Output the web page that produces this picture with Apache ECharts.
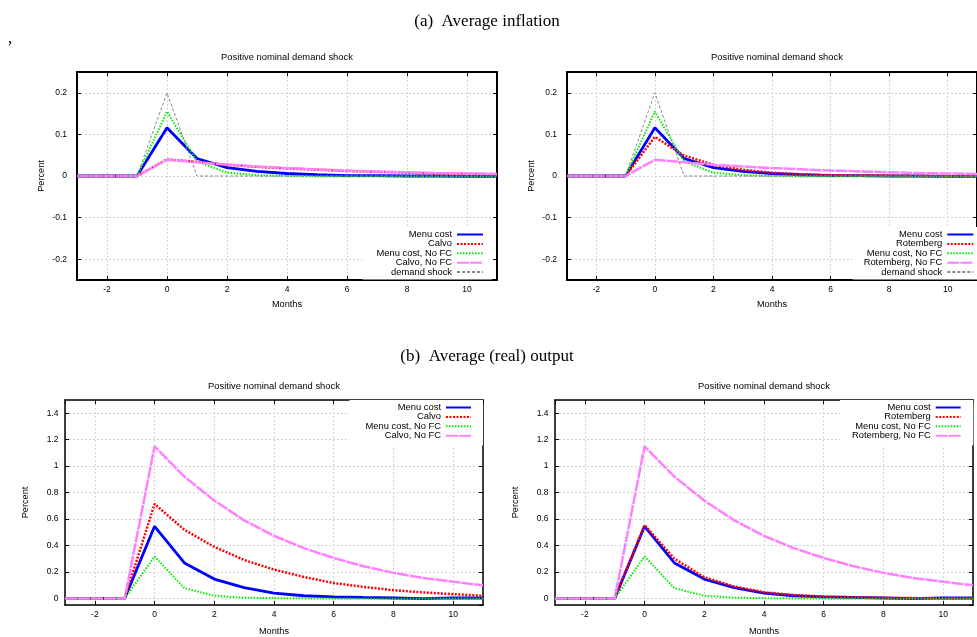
<!DOCTYPE html>
<html>
<head>
<meta charset="utf-8">
<script src="https://cdn.jsdelivr.net/npm/echarts@6.0.0/dist/echarts.min.js"></script>
<style>
  html, body { margin: 0; padding: 0; background: #fff; overflow: hidden; }
  #chart { width: 977px; height: 637px; }
</style>
</head>
<body>
<div id="chart"></div>
<script>
// months after the shock, one point per month
const months = [-3, -2, -1, 0, 1, 2, 3, 4, 5, 6, 7, 8, 9, 10, 11];

// (a) average inflation, percent
const inflMenu        = [0, 0, 0, 0.116, 0.042, 0.020, 0.011, 0.006, 0.003, 0.001, 0.001, 0.000, 0.000, -0.001, -0.001];
const inflCalvo       = [0, 0, 0, 0.040, 0.034, 0.027, 0.022, 0.018, 0.015, 0.012, 0.010, 0.008, 0.006, 0.005, 0.004];
const inflMenuNoFC    = [0, 0, 0, 0.155, 0.035, 0.008, 0.002, 0.000, -0.001, -0.001, -0.001, -0.001, -0.001, -0.001, -0.001];
const inflCalvoNoFC   = [0, 0, 0, 0.039, 0.033, 0.027, 0.023, 0.019, 0.016, 0.013, 0.011, 0.009, 0.007, 0.006, 0.005];
const inflRotemberg   = [0, 0, 0, 0.094, 0.049, 0.027, 0.015, 0.008, 0.004, 0.002, 0.001, 0.001, 0.000, 0.000, 0.000];
const inflRotembergNoFC = [0, 0, 0, 0.039, 0.033, 0.027, 0.023, 0.019, 0.016, 0.013, 0.011, 0.009, 0.007, 0.006, 0.005];
const demandShock     = [0, 0, 0, 0.200, 0, 0, 0, 0, 0, 0, 0, 0, 0, 0, 0];

// (b) average (real) output, percent
const outMenu         = [0, 0, 0, 0.545, 0.268, 0.146, 0.082, 0.040, 0.020, 0.012, 0.007, 0.003, -0.002, 0.004, 0.003];
const outCalvo        = [0, 0, 0, 0.714, 0.518, 0.390, 0.290, 0.218, 0.162, 0.116, 0.087, 0.062, 0.045, 0.032, 0.020];
const outMenuNoFC     = [0, 0, 0, 0.317, 0.077, 0.020, 0.005, 0.002, 0.000, -0.002, -0.002, -0.003, -0.002, 0.000, 0.000];
const outCalvoNoFC    = [0, 0, 0, 1.150, 0.920, 0.740, 0.590, 0.473, 0.380, 0.305, 0.243, 0.193, 0.154, 0.126, 0.099];
const outRotemberg    = [0, 0, 0, 0.555, 0.300, 0.160, 0.090, 0.047, 0.025, 0.014, 0.008, 0.004, 0.002, 0.001, 0.000];
const outRotembergNoFC = [0, 0, 0, 1.150, 0.920, 0.740, 0.590, 0.473, 0.380, 0.305, 0.243, 0.193, 0.154, 0.126, 0.099];

const FONT = 'Liberation Sans';
const SERIF = 'Liberation Serif';

// gnuplot-like line styles
const styles = {
  menu:   { color: '#0000ff', width: 2.8, type: 'solid' },
  calvo:  { color: '#ff0000', width: 2.5, type: [2, 1.5] },
  noFC:   { color: '#00ee00', width: 2,   type: [1.5, 1.5] },
  calvoNoFC: { color: '#ff80ff', width: 2.5, type: [12, 1] },
  shock:  { color: '#888888', width: 1,   type: [3, 2] }
};

function pairs(vals) {
  return months.map((m, i) => [m, vals[i]]);
}

function line(gi, name, vals, st) {
  return {
    type: 'line', name: name, xAxisIndex: 2 * gi, yAxisIndex: 2 * gi,
    data: pairs(vals), symbol: 'none', showSymbol: false, silent: true,
    color: st.color,
    itemStyle: { color: st.color },
    lineStyle: { color: st.color, width: st.width, type: st.type }
  };
}

// each panel gets a bottom/top x axis and a left/right y axis (mirrored ticks)
let xAxes = [];
let yAxes = [];
function panelAxes(gi, yMin, yMax, ySplit, lw, yMargin, yNameGap, xNameGap) {
  const axisLine = { show: true, onZero: false, lineStyle: { color: '#000', width: lw } };
  const tick = { show: true, inside: true, length: 4, lineStyle: { color: '#000', width: 1 } };
  const split = { show: true, lineStyle: { color: '#d2d2d2', width: 1, type: [2, 2] } };
  const lbl = { fontSize: 8.5, color: '#000', fontFamily: FONT, showMinLabel: false, showMaxLabel: false, interval: 0 };
  const nameStyle = { fontSize: 9.2, color: '#000', fontFamily: FONT };
  xAxes.push({
    type: 'value', gridIndex: gi, min: -3, max: 11, splitNumber: 7, position: 'bottom',
    axisLine: axisLine, axisTick: tick, splitLine: split,
    axisLabel: Object.assign({ margin: 5 }, lbl),
    name: 'Months', nameLocation: 'middle', nameGap: xNameGap, nameTextStyle: nameStyle
  });
  xAxes.push({
    type: 'value', gridIndex: gi, min: -3, max: 11, splitNumber: 7, position: 'top',
    axisLine: axisLine, axisTick: tick, splitLine: { show: false }, axisLabel: { show: false }
  });
  yAxes.push({
    type: 'value', gridIndex: gi, min: yMin, max: yMax, splitNumber: ySplit, position: 'left',
    axisLine: axisLine, axisTick: tick, splitLine: split,
    axisLabel: Object.assign({ margin: yMargin }, lbl),
    name: 'Percent', nameLocation: 'middle', nameGap: yNameGap, nameTextStyle: nameStyle
  });
  yAxes.push({
    type: 'value', gridIndex: gi, min: yMin, max: yMax, splitNumber: ySplit, position: 'right',
    axisLine: axisLine, axisTick: tick, splitLine: { show: false }, axisLabel: { show: false }
  });
}

panelAxes(0, -0.25, 0.25, 5, 2, 10, 31, 20);
panelAxes(1, -0.25, 0.25, 5, 2, 10, 31, 20);
panelAxes(2, -0.05, 1.5, 8, 1.5, 6.5, 35, 22);
panelAxes(3, -0.05, 1.5, 8, 1.5, 6.5, 35, 22);

const legendText = { fontSize: 9.4, lineHeight: 9, color: '#000', fontFamily: FONT };
function legend(names, right, top, padding, iconW) {
  return {
    data: names, orient: 'vertical', align: 'right', right: right, top: top,
    padding: padding, itemWidth: iconW, itemHeight: 9, itemGap: 0.4,
    backgroundColor: '#fff', textStyle: legendText, selectedMode: false,
    // hide the symbol dot, keep only the line sample
    itemStyle: { color: 'rgba(0,0,0,0)', borderWidth: 0, opacity: 0 }
  };
}

function caption(text, x, y, size, family) {
  return {
    type: 'text', x: x, y: y, silent: true,
    style: { text: text, fontSize: size, fontFamily: family, fill: '#000', align: 'center', verticalAlign: 'middle' }
  };
}

const chart = echarts.init(document.getElementById('chart'), null, { renderer: 'canvas' });

const option = {
  animation: false,
  backgroundColor: '#fff',
  grid: [
    { left: 77, top: 72, width: 420, height: 208 },
    { left: 567, top: 72, width: 420, height: 208 },
    { left: 65, top: 400, width: 418, height: 209 },
    { left: 555, top: 400, width: 418, height: 209 }
  ],
  xAxis: xAxes,
  yAxis: yAxes,
  legend: [
    legend(['Menu cost', 'Calvo', 'Menu cost, No FC', 'Calvo, No FC', 'demand shock'], 485, 227, [3, 8, 3, 14], 26),
    legend(['Menu cost', 'Rotemberg', 'Menu cost, No FC', 'Rotemberg, No FC', 'demand shock'], -5.3, 227, [3, 8, 3, 11], 26),
    legend(['Menu cost', 'Calvo', 'Menu cost, No FC', 'Calvo, No FC'], 494, 400, [3, 11, 5, 16], 25),
    legend(['Menu cost', 'Rotemberg', 'Menu cost, No FC', 'Rotemberg, No FC'], 3.7, 400, [3, 11.6, 5, 12], 25)
  ],
  graphic: [
    caption('(a)  Average inflation', 487, 22, 17, SERIF),
    caption('(b)  Average (real) output', 487, 357, 17, SERIF),
    caption(',', 10, 39, 17, SERIF),
    caption('Positive nominal demand shock', 287, 57, 9.4, FONT),
    caption('Positive nominal demand shock', 777, 57, 9.4, FONT),
    caption('Positive nominal demand shock', 274, 386, 9.4, FONT),
    caption('Positive nominal demand shock', 764, 386, 9.4, FONT)
  ],
  series: [
    line(0, 'Menu cost', inflMenu, styles.menu),
    line(0, 'Calvo', inflCalvo, styles.calvo),
    line(0, 'Menu cost, No FC', inflMenuNoFC, styles.noFC),
    line(0, 'Calvo, No FC', inflCalvoNoFC, styles.calvoNoFC),
    line(0, 'demand shock', demandShock, styles.shock),

    line(1, 'Menu cost', inflMenu, styles.menu),
    line(1, 'Rotemberg', inflRotemberg, styles.calvo),
    line(1, 'Menu cost, No FC', inflMenuNoFC, styles.noFC),
    line(1, 'Rotemberg, No FC', inflRotembergNoFC, styles.calvoNoFC),
    line(1, 'demand shock', demandShock, styles.shock),

    line(2, 'Menu cost', outMenu, styles.menu),
    line(2, 'Calvo', outCalvo, styles.calvo),
    line(2, 'Menu cost, No FC', outMenuNoFC, styles.noFC),
    line(2, 'Calvo, No FC', outCalvoNoFC, styles.calvoNoFC),

    line(3, 'Menu cost', outMenu, styles.menu),
    line(3, 'Rotemberg', outRotemberg, styles.calvo),
    line(3, 'Menu cost, No FC', outMenuNoFC, styles.noFC),
    line(3, 'Rotemberg, No FC', outRotembergNoFC, styles.calvoNoFC)
  ]
};

chart.setOption(option);
</script>
</body>
</html>
